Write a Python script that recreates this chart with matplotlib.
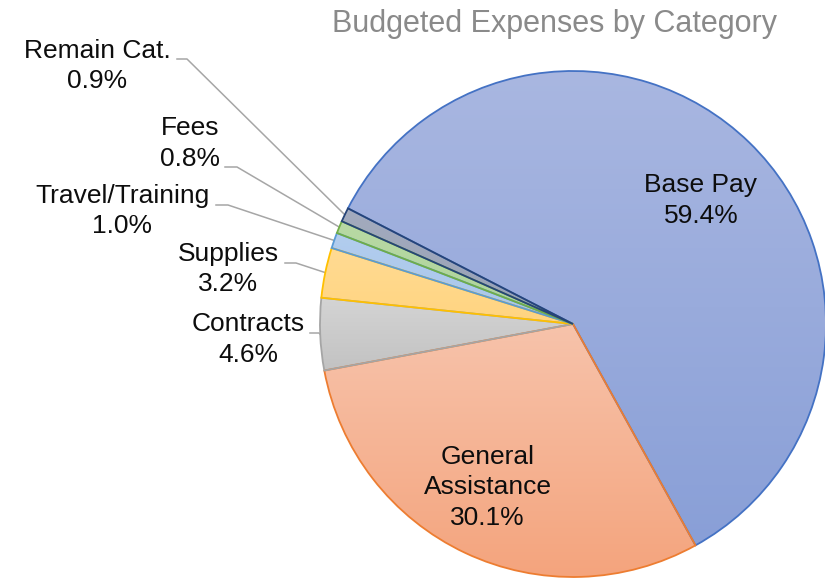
import numpy as np
import matplotlib.pyplot as plt
from matplotlib.colors import LinearSegmentedColormap

plt.rcParams['font.family'] = ['Liberation Sans', 'DejaVu Sans']

# budget shares, in drawing order (clockwise)
categories = ['Base Pay', 'General\nAssistance', 'Contracts', 'Supplies',
              'Travel/Training', 'Fees', 'Remain Cat.']
shares = [59.4, 30.1, 4.6, 3.2, 1.0, 0.8, 0.9]

fill_top = ['#A9B7E1', '#F7C3AB', '#D4D4D4', '#FFDB93', '#B2CDEE', '#B8D9A4', '#A3ABBE']
fill_bottom = ['#899FD7', '#F4A47D', '#C2C2C2', '#FFD480', '#A9C6EA', '#AED39A', '#97A0B5']
edge_colors = ['#4472C4', '#ED7D31', '#A5A5A5', '#FFC000', '#5B9BD5', '#70AD47', '#264478']

W, H = 825, 578
CX, CY, R = 573, 324, 253   # pie centre / radius in pixels
FS = 19
LS = 1.36


def px(x, y):
    # pixel position -> pie data coords
    return (x - CX) / R, (CY - y) / R


fig = plt.figure(figsize=(W / 100, H / 100), dpi=100)
ax = fig.add_axes([(CX - R) / W, (H - CY - R) / H, 2 * R / W, 2 * R / H])

wedges, _ = ax.pie(shares, startangle=152.8, counterclock=False, radius=1,
                   colors=['none'] * len(shares),
                   wedgeprops=dict(linewidth=1.3))

grad = np.linspace(0, 1, 256).reshape(-1, 1)
for w, top, bot, ec in zip(wedges, fill_top, fill_bottom, edge_colors):
    w.set_edgecolor(ec)
    w.set_zorder(3)
    w.set_clip_on(False)
    t = np.radians(np.linspace(w.theta1, w.theta2, 200))
    ys = np.append(np.sin(t), 0.0)
    cmap = LinearSegmentedColormap.from_list('g', [top, bot])
    im = ax.imshow(grad, extent=(-1, 1, ys.min(), ys.max()), origin='upper',
                   cmap=cmap, aspect='auto', zorder=2, interpolation='bilinear')
    im.set_clip_path(w)

ax.set_xlim(-1, 1)
ax.set_ylim(-1, 1)
ax.axis('off')

labels = [f'{c}\n{s:.1f}%' for c, s in zip(categories, shares)]

# labels inside the two large slices
ax.text(*px(701, 200.5), labels[0], ha='center', va='center', fontsize=FS,
        color='#0D0D0D', linespacing=LS)
ax.text(*px(487.5, 487.5), labels[1], ha='center', va='center', fontsize=FS,
        color='#0D0D0D', linespacing=LS)

# outside labels with leader lines: text centre, leader start, leader kink
outer_text = [(248, 339.5), (228.5, 269), (122.5, 211), (190, 143.5), (97.5, 66)]
leader_start = [(310, 333), (285, 263), (216, 205), (225, 167), (177, 59)]
leader_kink = [(319, 333), (296, 263), (228, 205), (237, 167), (187, 59)]

for i, (tp, sp, kp) in enumerate(zip(outer_text, leader_start, leader_kink), start=2):
    w = wedges[i]
    mid = np.radians((w.theta1 + w.theta2) / 2)
    x0, y0 = px(*sp)
    x1, y1 = px(*kp)
    ax.plot([x0, x1, np.cos(mid)], [y0, y1, np.sin(mid)], color='#A6A6A6',
            lw=1.1, zorder=1, clip_on=False)
    ax.text(*px(*tp), labels[i], ha='center', va='center', fontsize=FS,
            color='#0D0D0D', linespacing=LS)

fig.text(554.5 / W, 1 - 32 / H, 'Budgeted Expenses by Category', ha='center',
         va='baseline', fontsize=22, color='#8A8A8A')

fig.savefig('out.png', dpi=100)
